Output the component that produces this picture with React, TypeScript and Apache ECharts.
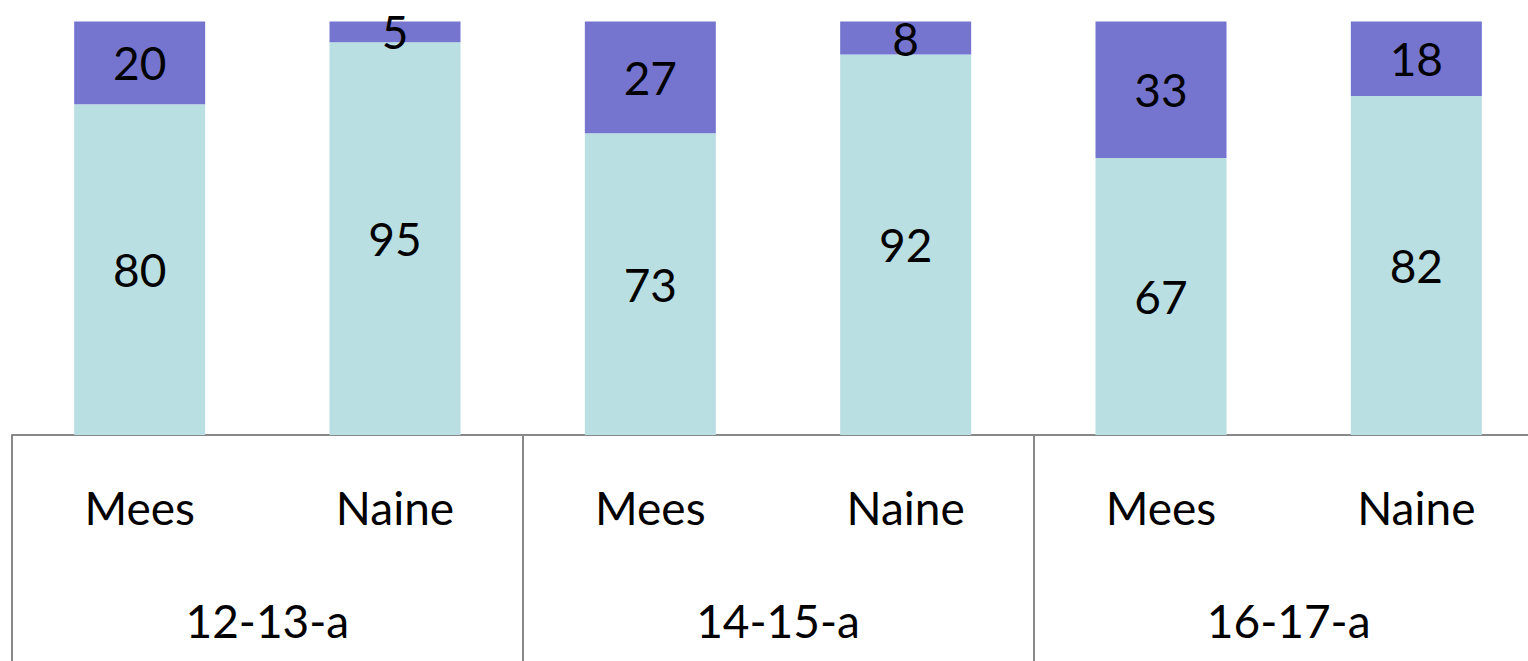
import React, { useEffect, useRef } from "react";
import * as echarts from "echarts";

const categories = ["Mees", "Naine", "Mees", "Naine", "Mees", "Naine"];
const groups = ["12-13-a", "14-15-a", "16-17-a"];
const lowerValues = [80, 95, 73, 92, 67, 82];
const upperValues = [20, 5, 27, 8, 33, 18];

const FONT = "Lato, 'Noto Sans', sans-serif";

export default function App() {
  const ref = useRef<HTMLDivElement>(null);
  useEffect(() => {
    if (!ref.current) return;
    const chart = echarts.init(ref.current, undefined, { renderer: "svg" });
    const labelStyle = {
      show: true,
      position: "inside" as const,
      color: "#000",
      fontSize: 46,
      fontFamily: FONT,
    };
    chart.setOption({
      animation: false,
      backgroundColor: "#ffffff",
      grid: { left: 12, right: 0, top: 21.5, bottom: 226 },
      xAxis: [
        {
          type: "category",
          data: categories,
          position: "bottom",
          offset: 0,
          axisLine: { show: true, lineStyle: { color: "#888888", width: 2 } },
          axisTick: { show: false },
          axisLabel: {
            interval: 0,
            margin: 72,
            verticalAlign: "middle",
            color: "#000",
            fontSize: 46,
            fontFamily: FONT,
          },
        },
        {
          type: "category",
          data: groups,
          position: "bottom",
          offset: 0,
          axisLine: { show: false },
          axisTick: {
            show: true,
            interval: 0,
            length: 240,
            lineStyle: { color: "#888888", width: 2 },
          },
          axisLabel: {
            interval: 0,
            margin: 185,
            verticalAlign: "middle",
            color: "#000",
            fontSize: 46,
            fontFamily: FONT,
          },
        },
      ],
      yAxis: { type: "value", min: 0, max: 100, show: false },
      series: [
        {
          type: "bar",
          stack: "total",
          xAxisIndex: 0,
          data: lowerValues,
          barWidth: 131,
          itemStyle: { color: "#BADFE2" },
          label: labelStyle,
        },
        {
          type: "bar",
          stack: "total",
          xAxisIndex: 0,
          data: upperValues,
          barWidth: 131,
          itemStyle: { color: "#7575D0" },
          label: labelStyle,
        },
      ],
    });
    return () => chart.dispose();
  }, []);
  return (
    <div
      style={{
        position: "fixed",
        left: 0,
        top: 0,
        width: 1528,
        height: 661,
        overflow: "hidden",
        background: "#ffffff",
      }}
    >
      <div ref={ref} style={{ width: 1544, height: 661 }} />
    </div>
  );
}
